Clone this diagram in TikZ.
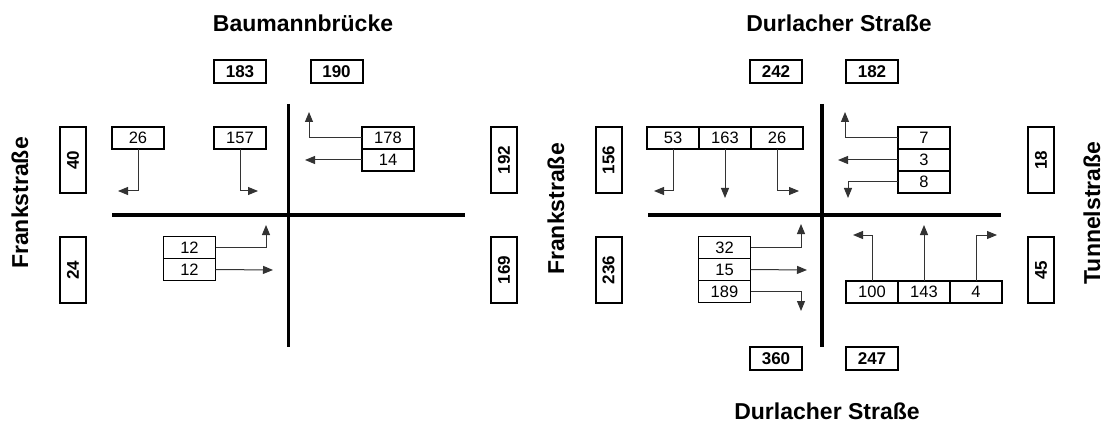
\documentclass[tikz,border=0pt]{standalone}
\usepackage{fontspec}
\setmainfont{Liberation Sans}
\usetikzlibrary{positioning,arrows.meta}

\tikzset{
  street/.style={font=\bfseries\fontsize{23}{24}\selectfont, inner sep=0pt},
  total/.style={draw, line width=2pt, minimum width=52, minimum height=23, inner sep=0pt,
    font=\bfseries\fontsize{17}{17}\selectfont},
  side/.style={total, rotate=90, minimum width=66, minimum height=26},
  lane/.style={draw, line width=1.8pt, minimum width=52, minimum height=22, inner sep=0pt,
    outer sep=0pt, font=\fontsize{16.5}{17}\selectfont},
  flow/.style={-{Triangle[length=10pt,width=8pt]}, line width=1pt, black!80},
  road/.style={line width=3.5pt},
}

\begin{document}
\begin{tikzpicture}[x=1pt,y=-1pt]
  \useasboundingbox (0,0) rectangle (1109,425);

  % Baumannbruecke / Frankstrasse
  \node[street] (tBaum) at (303,23) {Baumannbrücke};
  \node[street, rotate=90] (tFrankL) at (20,203) {Frankstraße};
  \node[total] (t183) at (240,71.5) {183};
  \node[total] (t190) at (336.5,71.5) {190};
  \node[side] (t40) at (73,160) {40};
  \node[side] (t24) at (73,270) {24};
  \node[side] (t192) at (504,160) {192};
  \node[side] (t169) at (504,270) {169};
  \draw[road] (288.6,104) -- (288.6,347);
  \draw[road] (112,215) -- (465,215);

  \node[lane] (k26) at (138,138) {26};
  \node[lane] (k157) at (240,138) {157};
  \node[lane] (k178) at (388,138) {178};
  \node[lane, below=0pt of k178] (k14) {14};
  \node[lane] (k12a) at (189.5,247.5) {12};
  \node[lane, below=0pt of k12a] (k12b) {12};

  \coordinate (e26) at (118,191);
  \coordinate (e157) at (258,191);
  \coordinate (e178) at (309,112);
  \coordinate (e14) at (305,160);
  \coordinate (e12a) at (266,225);
  \coordinate (e12b) at (273,270);

  \draw[flow] (k26.south) |- (e26);
  \draw[flow] (k157.south) |- (e157);
  \draw[flow] (k178.west) -| (e178);
  \draw[flow] (k14.west) -- (e14);
  \draw[flow] (k12a.east) -| (e12a);
  \draw[flow] (k12b.east) -- (e12b);

  % Durlacher Strasse / Tunnelstrasse
  \node[street] (tDurN) at (839,23) {Durlacher Straße};
  \node[street] (tDurS) at (827,411) {Durlacher Straße};
  \node[street, rotate=90] (tFrankR) at (556,209) {Frankstraße};
  \node[street, rotate=90] (tTunnel) at (1092,213) {Tunnelstraße};
  \node[total] (t242) at (776,71.5) {242};
  \node[total] (t182) at (872,71.5) {182};
  \node[total] (t360) at (776,358.5) {360};
  \node[total] (t247) at (872,358.5) {247};
  \node[side] (t156) at (608.5,160) {156};
  \node[side] (t236) at (608.5,270) {236};
  \node[side] (t18) at (1041,160) {18};
  \node[side] (t45) at (1041,270) {45};
  \draw[road] (822,104) -- (822,347);
  \draw[road] (648,215) -- (1001,215);

  \node[lane] (k53) at (673,138) {53};
  \node[lane, right=0pt of k53] (k163) {163};
  \node[lane, right=0pt of k163] (k26r) {26};
  \node[lane] (k7) at (924,138) {7};
  \node[lane, below=0pt of k7] (k3) {3};
  \node[lane, below=0pt of k3] (k8) {8};
  \node[lane] (k32) at (724.5,247.5) {32};
  \node[lane, below=0pt of k32] (k15) {15};
  \node[lane, below=0pt of k15] (k189) {189};
  \node[lane] (k100) at (872,292) {100};
  \node[lane, right=0pt of k100] (k143) {143};
  \node[lane, right=0pt of k143] (k4) {4};

  \coordinate (e53) at (654,191);
  \coordinate (e163) at (725,198);
  \coordinate (e26r) at (799,191);
  \coordinate (e7) at (845,112);
  \coordinate (e3) at (838,160);
  \coordinate (e8) at (848,198);
  \coordinate (e32) at (801,224);
  \coordinate (e15) at (807,270);
  \coordinate (e189) at (801,311);
  \coordinate (e100) at (853,235);
  \coordinate (e143) at (924,225);
  \coordinate (e4) at (997,235);

  \draw[flow] (k53.south) |- (e53);
  \draw[flow] (k163.south) -- (e163);
  \draw[flow] (k26r.south) |- (e26r);
  \draw[flow] (k7.west) -| (e7);
  \draw[flow] (k3.west) -- (e3);
  \draw[flow] (k8.west) -| (e8);
  \draw[flow] (k32.east) -| (e32);
  \draw[flow] (k15.east) -- (e15);
  \draw[flow] (k189.east) -| (e189);
  \draw[flow] (k100.north) |- (e100);
  \draw[flow] (k143.north) -- (e143);
  \draw[flow] (k4.north) |- (e4);
\end{tikzpicture}
\end{document}
